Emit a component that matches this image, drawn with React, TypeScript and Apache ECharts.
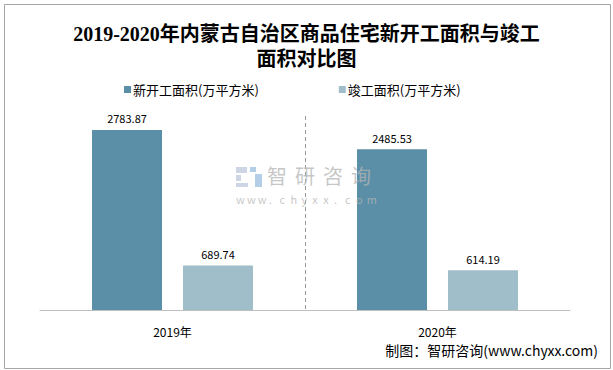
import React, { useEffect, useRef } from "react";
import * as echarts from "echarts";

const categories = ["2019年", "2020年"];
const newStartArea = [2783.87, 2485.53];
const completedArea = [689.74, 614.19];
const seriesNames = ["新开工面积(万平方米)", "竣工面积(万平方米)"];
const titleText = "2019-2020年内蒙古自治区商品住宅新开工面积与竣工\n面积对比图";
const footerText = "制图：智研咨询(www.chyxx.com)";
const watermarkChars = ["智", "研", "咨", "询"];
const watermarkUrl = "www.chyxx.com".split("");

export default function App() {
  const ref = useRef<HTMLDivElement>(null);
  useEffect(() => {
    document.body.style.margin = "0";
    const chart = echarts.init(ref.current!, null, { renderer: "svg" });
    const sans = "'Microsoft YaHei', 'Noto Sans CJK SC', sans-serif";
    const labelOpt = {
      show: true,
      position: "top",
      distance: 6,
      fontFamily: sans,
      fontSize: 11,
      color: "#000",
      formatter: (p: any) => p.value.toFixed(2),
    };
    const wmRects = [
      { x: 0, y: 2, width: 11, height: 6, fill: "#c5cfe0" },
      { x: 0, y: 10, width: 5, height: 6, fill: "#c5cfe0" },
      { x: 0, y: 18, width: 12, height: 4, fill: "#c5cfe0" },
      { x: 14, y: 2, width: 6, height: 5, fill: "#a8c6e4" },
      { x: 19, y: 9, width: 7, height: 13, fill: "#a8c6e4" },
    ];
    chart.setOption({
      animation: false,
      backgroundColor: "#fff",
      title: {
        text: titleText,
        left: "center",
        top: 16,
        textStyle: {
          fontFamily: "'Liberation Serif', 'Noto Sans CJK SC', serif",
          fontWeight: "bold",
          fontSize: 20,
          lineHeight: 25,
          color: "#000",
        },
      },
      legend: {
        top: 78,
        left: 119,
        itemWidth: 7,
        itemHeight: 7,
        itemGap: 80,
        icon: "rect",
        textStyle: { fontFamily: sans, fontSize: 13, color: "#000", padding: [0, 0, 0, -3] },
        data: seriesNames,
      },
      grid: { left: 40, right: 43, top: 116, bottom: 60, containLabel: false },
      xAxis: [
        {
          type: "category",
          data: categories,
          axisLine: { lineStyle: { color: "#bfbfbf", width: 1 } },
          axisTick: { show: false },
          axisLabel: { fontFamily: sans, fontSize: 12, color: "#000", margin: 15 },
          splitLine: { show: false },
        },
        {
          type: "value",
          min: 0,
          max: categories.length,
          interval: 1,
          position: "bottom",
          axisLine: { show: false },
          axisTick: { show: false },
          axisLabel: { show: false },
          splitLine: {
            show: true,
            showMinLine: false,
            showMaxLine: false,
            lineStyle: { type: [4, 3], color: "#999", width: 1 },
          },
        },
      ],
      yAxis: {
        type: "value",
        min: 0,
        max: 3000,
        show: false,
        splitLine: { show: false },
      },
      series: [
        {
          name: seriesNames[0],
          type: "bar",
          data: newStartArea,
          barWidth: 70,
          barGap: "30%",
          itemStyle: { color: "#5B8FA7" },
          label: labelOpt,
        },
        {
          name: seriesNames[1],
          type: "bar",
          data: completedArea,
          barWidth: 70,
          itemStyle: { color: "#A0BDCA" },
          label: labelOpt,
        },
      ],
      graphic: [
        {
          type: "rect",
          left: 2,
          top: 2,
          shape: { width: 606, height: 364 },
          style: { fill: "none", stroke: "#a6a6a6", lineWidth: 1 },
          silent: true,
        },
        {
          type: "group",
          left: 236,
          top: 165,
          z: 100,
          silent: true,
          children: [
            ...wmRects.map((r) => ({
              type: "rect",
              z: 100,
              shape: { x: r.x, y: r.y, width: r.width, height: r.height },
              style: { fill: r.fill, opacity: 0.85 },
            })),
            ...watermarkChars.map((c, i) => ({
              type: "text",
              z: 100,
              x: 31 + i * 28,
              y: 0,
              style: { text: c, fontFamily: sans, fontSize: 20, fill: "#b4b4b4", opacity: 0.75 },
            })),
            ...watermarkUrl.map((c, i) => ({
              type: "text",
              z: 100,
              x: i * 10.9,
              y: 28,
              style: { text: c, fontFamily: sans, fontSize: 11, fill: "#b4b4b4", opacity: 0.75 },
            })),
          ],
        },
        {
          type: "text",
          right: 15,
          top: 343,
          style: { text: footerText, fontFamily: sans, fontSize: 14, fill: "#000" },
        },
      ],
    });
    return () => chart.dispose();
  }, []);
  return <div ref={ref} style={{ width: 613, height: 370 }} />;
}
